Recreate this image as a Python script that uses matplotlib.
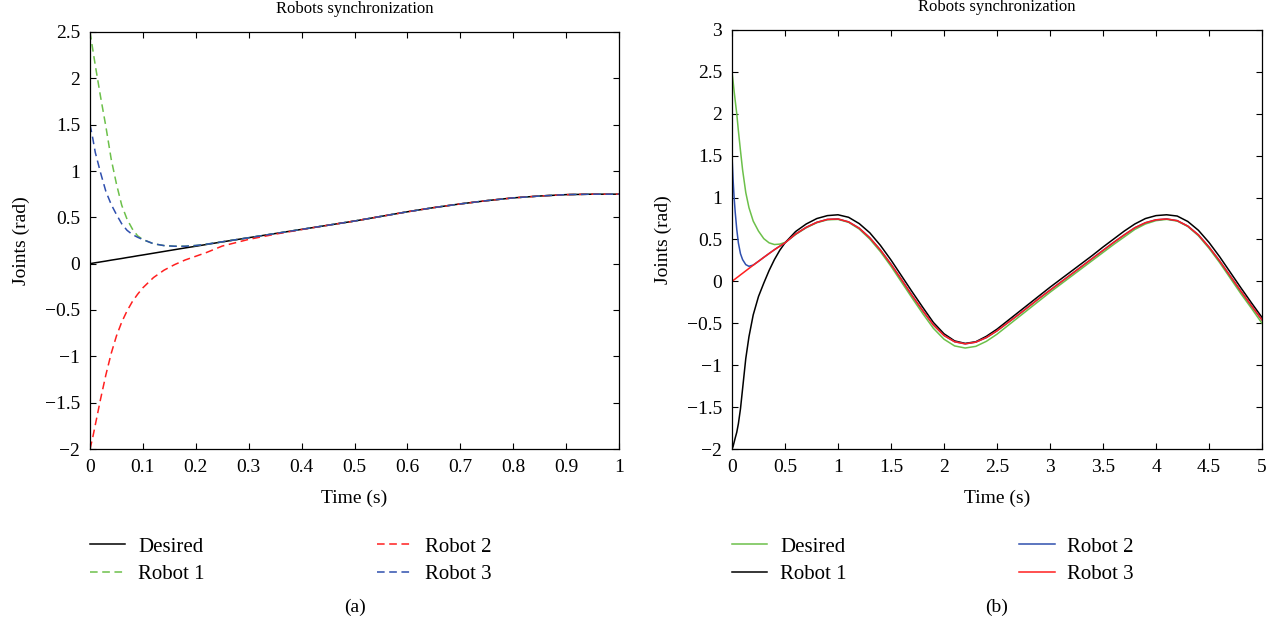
import matplotlib.pyplot as plt
from matplotlib.ticker import FuncFormatter

plt.rcParams['font.family'] = ['Liberation Serif', 'DejaVu Serif']

# ---- panel (a) data ----
t_a = [0, 0.005, 0.01, 0.015, 0.02, 0.03, 0.04, 0.05, 0.06, 0.07, 0.08, 0.09, 0.1,
       0.12, 0.14, 0.16, 0.18, 0.2, 0.22, 0.25, 0.3, 0.35, 0.4, 0.45, 0.5, 0.55,
       0.6, 0.65, 0.7, 0.75, 0.8, 0.85, 0.9, 0.95, 1.0]
desired_a = [0, 0.005, 0.01, 0.014, 0.019, 0.028, 0.038, 0.047, 0.056, 0.066, 0.075,
             0.085, 0.094, 0.113, 0.132, 0.151, 0.17, 0.188, 0.207, 0.235, 0.28, 0.325,
             0.37, 0.415, 0.46, 0.51, 0.56, 0.605, 0.645, 0.68, 0.71, 0.73, 0.745, 0.75, 0.75]
robot1_a = [2.5, 2.32, 2.14, 1.97, 1.8, 1.48, 1.13, 0.86, 0.63, 0.48, 0.375, 0.3, 0.26,
            0.215, 0.195, 0.188, 0.188, 0.196, 0.21, 0.236] + desired_a[20:]
robot2_a = [-2.0, -1.88, -1.74, -1.6, -1.46, -1.2, -0.97, -0.78, -0.63, -0.51, -0.41,
            -0.33, -0.26, -0.15, -0.07, -0.01, 0.04, 0.08, 0.12, 0.19, 0.262, 0.318,
            0.368] + desired_a[23:]
robot3_a = [1.5, 1.36, 1.2, 1.09, 0.98, 0.78, 0.64, 0.53, 0.43, 0.36, 0.315, 0.285, 0.26,
            0.215, 0.195, 0.188, 0.188, 0.196, 0.21, 0.236] + desired_a[20:]

# ---- panel (b) data ----
t_b = [0, 0.01, 0.02, 0.03, 0.045, 0.06, 0.08, 0.1, 0.13, 0.16, 0.2, 0.25, 0.3, 0.35,
       0.4, 0.45, 0.5, 0.6, 0.7, 0.8, 0.9, 1.0, 1.1, 1.2, 1.3, 1.4, 1.5, 1.6, 1.7, 1.8,
       1.9, 2.0, 2.1, 2.2, 2.3, 2.4, 2.5, 2.6, 2.7, 2.8, 2.9, 3.0, 3.1, 3.2, 3.3, 3.4,
       3.5, 3.6, 3.7, 3.8, 3.9, 4.0, 4.1, 4.2, 4.3, 4.4, 4.5, 4.6, 4.7, 4.8, 4.9, 5.0]
robot3_b = [0, 0.01, 0.02, 0.029, 0.044, 0.058, 0.078, 0.097, 0.126, 0.155, 0.193, 0.24,
            0.287, 0.333, 0.378, 0.42, 0.46, 0.565, 0.645, 0.705, 0.74, 0.745, 0.71, 0.635,
            0.52, 0.375, 0.205, 0.02, -0.17, -0.35, -0.52, -0.645, -0.72, -0.745, -0.725,
            -0.67, -0.59, -0.495, -0.4, -0.3, -0.2, -0.105, -0.01, 0.085, 0.18, 0.275, 0.37,
            0.465, 0.555, 0.64, 0.7, 0.735, 0.745, 0.725, 0.66, 0.555, 0.41, 0.245, 0.065,
            -0.115, -0.29, -0.46]
robot2_b = [1.5, 1.22, 1.0, 0.83, 0.62, 0.46, 0.33, 0.26, 0.2, 0.18, 0.195] + robot3_b[11:]
desired_b = [2.5, 2.39, 2.27, 2.16, 2.0, 1.8, 1.56, 1.33, 1.06, 0.88, 0.72, 0.6, 0.51, 0.46,
             0.44, 0.445, 0.465, 0.56, 0.64, 0.7, 0.735, 0.74, 0.705, 0.625, 0.505, 0.355,
             0.18, -0.01, -0.2, -0.385, -0.56, -0.69, -0.77, -0.795, -0.775, -0.715, -0.63,
             -0.53, -0.43, -0.33, -0.23, -0.13, -0.035, 0.06, 0.155, 0.25, 0.345, 0.44, 0.53,
             0.62, 0.685, 0.725, 0.74, 0.72, 0.655, 0.545, 0.395, 0.225, 0.04, -0.145, -0.32,
             -0.5]
robot1_b = [-2.0, -1.97, -1.92, -1.87, -1.8, -1.7, -1.52, -1.28, -0.92, -0.66, -0.4, -0.18,
            -0.02, 0.13, 0.26, 0.37, 0.46, 0.595, 0.685, 0.75, 0.785, 0.795, 0.765, 0.69,
            0.58, 0.43, 0.255, 0.065, -0.125, -0.31, -0.49, -0.625, -0.71, -0.74, -0.72,
            -0.655, -0.57, -0.47, -0.37, -0.27, -0.17, -0.07, 0.025, 0.12, 0.215, 0.31, 0.41,
            0.505, 0.6, 0.685, 0.75, 0.785, 0.795, 0.78, 0.715, 0.61, 0.465, 0.295, 0.11,
            -0.075, -0.255, -0.43]

GREEN = '#6cc04a'
BLUE = '#2f4fae'
RED = '#ff1f1f'
dash = (0, (5, 3))
fmt = FuncFormatter(lambda v, p: f'{v:g}'.replace('-', '\u2212'))

fig = plt.figure(figsize=(12.76, 6.3), dpi=100)
ax1 = fig.add_axes([90 / 1276, 1 - 449 / 630, 529 / 1276, 417 / 630])
ax2 = fig.add_axes([732 / 1276, 1 - 449 / 630, 530 / 1276, 419 / 630])

ax1.plot(t_a, desired_a, color='black', lw=1.1, label='Desired')
ax1.plot(t_a, robot1_a, color=GREEN, lw=1.1, ls=dash, label='Robot 1')
ax1.plot(t_a, robot2_a, color=RED, lw=1.1, ls=dash, label='Robot 2')
ax1.plot(t_a, robot3_a, color=BLUE, lw=1.1, ls=dash, label='Robot 3')
ax1.set_xlim(0, 1)
ax1.set_ylim(-2, 2.5)
ax1.set_xticks([0, 0.1, 0.2, 0.3, 0.4, 0.5, 0.6, 0.7, 0.8, 0.9, 1])
ax1.set_yticks([-2, -1.5, -1, -0.5, 0, 0.5, 1, 1.5, 2, 2.5])

ax2.plot(t_b, desired_b, color=GREEN, lw=1.1, label='Desired')
ax2.plot(t_b, robot1_b, color='black', lw=1.1, label='Robot 1')
ax2.plot(t_b, robot2_b, color=BLUE, lw=1.1, label='Robot 2')
ax2.plot(t_b, robot3_b, color=RED, lw=1.1, label='Robot 3')
ax2.set_xlim(0, 5)
ax2.set_ylim(-2, 3)
ax2.set_xticks([0, 0.5, 1, 1.5, 2, 2.5, 3, 3.5, 4, 4.5, 5])
ax2.set_yticks([-2, -1.5, -1, -0.5, 0, 0.5, 1, 1.5, 2, 2.5, 3])

for ax, cap, cx in [(ax1, '(a)', 355), (ax2, '(b)', 997)]:
    ax.xaxis.set_major_formatter(fmt)
    ax.yaxis.set_major_formatter(fmt)
    ax.set_title('Robots synchronization', fontsize=12, pad=14)
    ax.set_xlabel('Time (s)', fontsize=14, labelpad=10)
    ax.set_ylabel('Joints (rad)', fontsize=14, labelpad=11)
    ax.tick_params(direction='in', top=True, right=True, length=4, width=0.8,
                   labelsize=14, pad=7)
    for sp in ax.spines.values():
        sp.set_linewidth(0.9)
    fig.text(cx / 1276, 1 - 607 / 630, cap, ha='center', va='center', fontsize=14)
    box = ax.get_position()
    fig.legend(handles=ax.get_lines(), loc='upper left',
               bbox_to_anchor=(box.x0, 1 - 537 / 630), ncol=2, frameon=False,
               fontsize=15, handlelength=1.7, handletextpad=0.6, columnspacing=8.3,
               labelspacing=0.38, borderaxespad=0, borderpad=0)

fig.savefig('out.png', dpi=100)
